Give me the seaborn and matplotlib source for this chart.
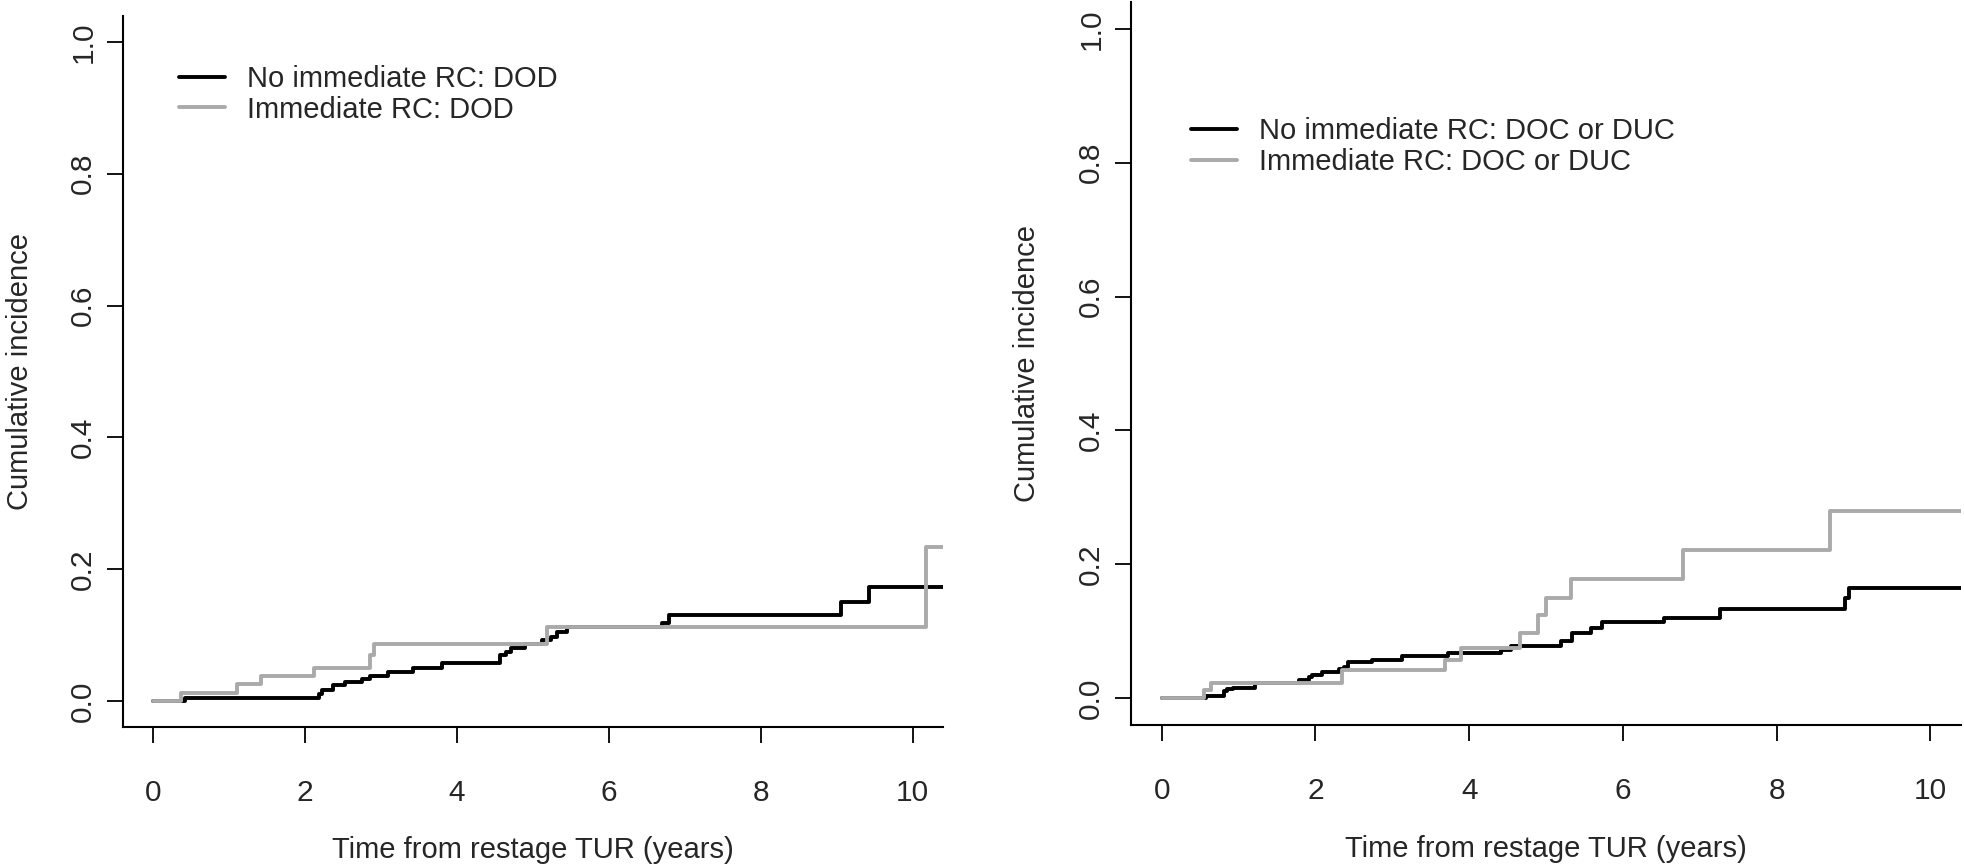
import numpy as np
import pandas as pd
import matplotlib
matplotlib.use('Agg')
import matplotlib.pyplot as plt
import seaborn as sns

# krivulje kumulativne incidencije (procitano sa slike)
dod_no_t = [0, 0.42, 2.18, 2.22, 2.36, 2.53, 2.75, 2.85, 3.09, 3.42, 3.80, 4.57, 4.64, 4.71,
            4.90, 5.12, 5.24, 5.32, 5.45, 6.70, 6.79, 9.05, 9.43, 10.6]
dod_no_v = [0, 0.004, 0.011, 0.017, 0.024, 0.029, 0.033, 0.038, 0.044, 0.050, 0.057, 0.070, 0.074,
            0.080, 0.086, 0.092, 0.097, 0.105, 0.112, 0.118, 0.130, 0.150, 0.173, 0.173]
dod_imm_t = [0, 0.37, 1.10, 1.42, 2.12, 2.85, 2.90, 5.18, 10.17, 10.6]
dod_imm_v = [0, 0.012, 0.026, 0.038, 0.050, 0.070, 0.086, 0.112, 0.233, 0.233]

doc_no_t = [0, 0.57, 0.81, 0.85, 0.93, 1.21, 1.79, 1.92, 1.95, 2.09, 2.30, 2.37, 2.43, 2.73, 3.12,
            3.73, 4.41, 4.54, 5.19, 5.34, 5.58, 5.73, 6.53, 7.27, 8.89, 8.94, 10.6]
doc_no_v = [0, 0.003, 0.011, 0.014, 0.016, 0.022, 0.027, 0.031, 0.034, 0.039, 0.043, 0.046, 0.054,
            0.057, 0.063, 0.067, 0.072, 0.078, 0.085, 0.098, 0.105, 0.114, 0.120, 0.133, 0.150,
            0.165, 0.165]
doc_imm_t = [0, 0.55, 0.64, 2.34, 3.69, 3.90, 4.66, 4.89, 5.00, 5.33, 6.78, 8.70, 10.6]
doc_imm_v = [0, 0.012, 0.022, 0.042, 0.057, 0.075, 0.098, 0.124, 0.149, 0.178, 0.221, 0.279, 0.279]

labels_dod = ['No immediate RC: DOD', 'Immediate RC: DOD']
labels_doc = ['No immediate RC: DOC or DUC', 'Immediate RC: DOC or DUC']
xticks = [0, 2, 4, 6, 8, 10]
yticks = [0.0, 0.2, 0.4, 0.6, 0.8, 1.0]

sns.set_style('ticks')
plt.rcParams['font.family'] = ['Liberation Sans', 'DejaVu Sans']

fig = plt.figure(figsize=[19.64, 8.66], dpi=100)
ax1 = fig.add_axes([123/1964, 1-727.4/866, 820/1964, 711.8/866])
ax2 = fig.add_axes([1131/1964, 1-725/866, 830/1964, 723/866])


def panel(ax, t_no, v_no, t_imm, v_imm, labels, leg_xy):
    df = pd.concat([
        pd.DataFrame({'t': t_no, 'v': v_no, 'grp': labels[0]}),
        pd.DataFrame({'t': t_imm, 'v': v_imm, 'grp': labels[1]}),
    ])
    sns.lineplot(data=df, x='t', y='v', hue='grp', hue_order=labels,
                 palette={labels[0]: 'black', labels[1]: '#aaaaaa'},
                 drawstyle='steps-post', estimator=None, linewidth=2.8,
                 legend=False, ax=ax)
    ax.set_xlim(-0.4, 10.4)
    ax.set_ylim(-0.04, 1.04)
    ax.set_xticks(xticks)
    ax.set_yticks(yticks)
    ax.set_xticklabels([str(x) for x in xticks])
    ax.set_yticklabels(['%.1f' % y for y in yticks], rotation=90, va='center')
    ax.tick_params(axis='both', length=11.5, width=1.3, labelsize=21.5, color='black')
    ax.tick_params(axis='x', pad=26)
    ax.tick_params(axis='y', pad=7)
    sns.despine(ax=ax)
    for s in ['left', 'bottom']:
        ax.spines[s].set_linewidth(1.5)
        ax.spines[s].set_color('black')
    ax.set_xlabel('Time from restage TUR (years)', fontsize=21)
    ax.set_ylabel('Cumulative incidence', fontsize=21)
    ax.xaxis.set_label_coords(0.5, -0.152)
    ax.yaxis.set_label_coords(-0.108, 0.5)
    ax.legend(handles=ax.get_lines()[:2], labels=labels, loc='upper left',
              bbox_to_anchor=leg_xy, frameon=False, fontsize=21,
              handlelength=1.6, handletextpad=0.75, labelspacing=0.1,
              borderpad=0, borderaxespad=0)


panel(ax1, dod_no_t, dod_no_v, dod_imm_t, dod_imm_v, labels_dod, (0.068, 0.931))
panel(ax2, doc_no_t, doc_no_v, doc_imm_t, doc_imm_v, labels_doc, (0.072, 0.841))

fig.savefig('out.png', dpi=100)
